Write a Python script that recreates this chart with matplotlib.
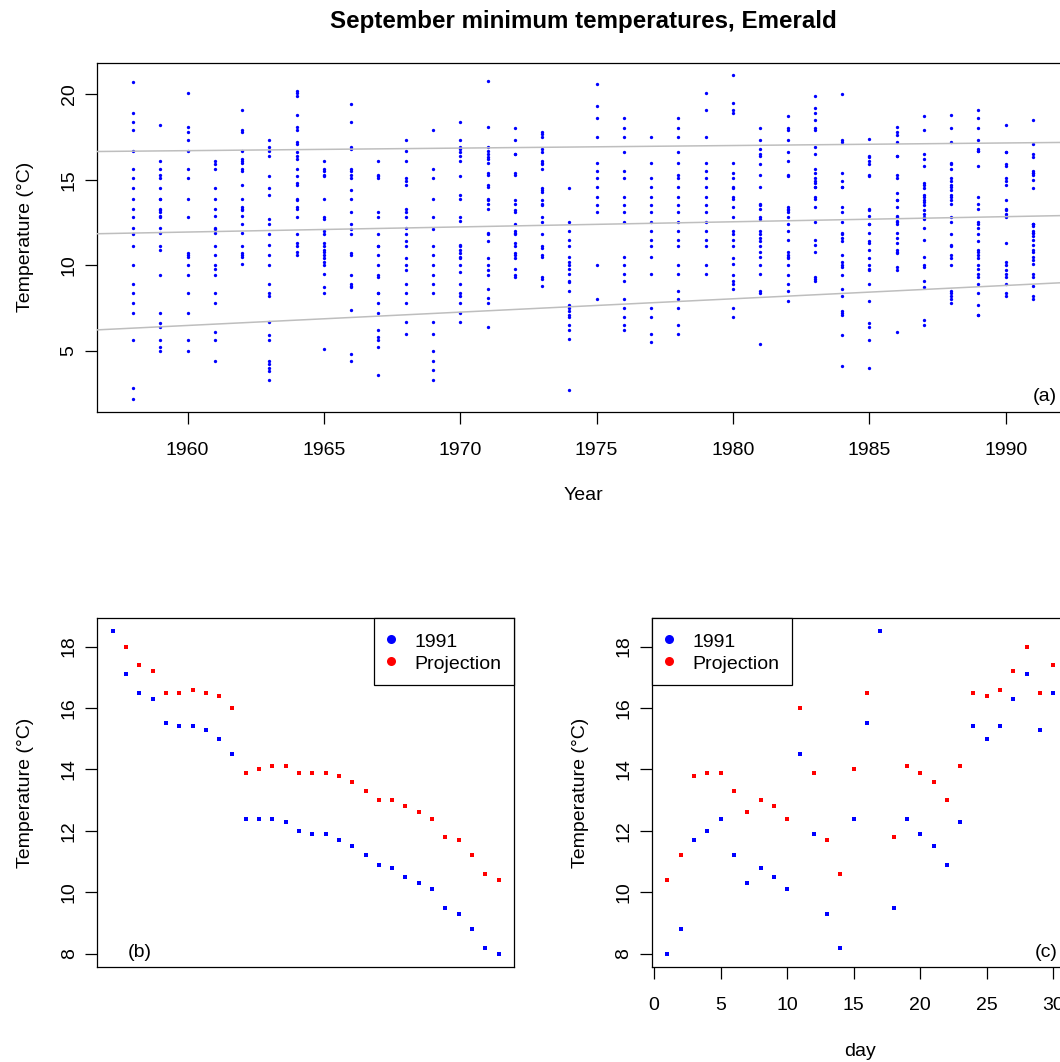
import numpy as np
import matplotlib
matplotlib.use("Agg")
import matplotlib.pyplot as plt
from matplotlib.lines import Line2D

plt.rcParams['font.family'] = ['Liberation Sans', 'DejaVu Sans']

# Daily September minimum temperatures (°C) at Emerald, one list per year
sep_1958 = [20.7, 18.9, 18.4, 17.9, 16.7, 15.6, 15.1, 14.5, 13.9, 13.3, 12.8, 12.2, 11.8, 11.1, 10.0, 8.9, 8.4, 7.8, 7.2, 5.6, 2.8, 2.2]
sep_1959 = [18.2, 16.1, 15.6, 15.3, 15.1, 14.5, 13.9, 13.9, 13.3, 13.2, 13.1, 12.9, 12.8, 12.2, 11.9, 11.1, 10.9, 9.4, 7.2, 6.6, 6.4, 5.6, 5.2, 5.0]
sep_1960 = [20.1, 18.1, 17.8, 17.3, 16.7, 15.6, 15.1, 13.9, 12.8, 10.7, 10.6, 10.5, 10.0, 9.4, 8.4, 7.2, 5.6, 5.0]
sep_1961 = [16.1, 15.9, 15.6, 14.5, 13.9, 13.3, 12.9, 12.2, 12.1, 11.9, 11.1, 10.6, 10.0, 9.8, 9.4, 8.4, 7.8, 6.1, 5.6, 4.4]
sep_1962 = [19.1, 17.9, 17.8, 16.7, 16.2, 16.1, 16.0, 15.6, 15.5, 14.7, 13.9, 13.4, 13.3, 13.2, 12.9, 12.4, 11.9, 11.1, 10.7, 10.6, 10.5, 10.1]
sep_1963 = [17.3, 16.9, 16.7, 16.4, 15.2, 14.5, 14.1, 12.7, 12.4, 11.8, 11.2, 10.6, 10.0, 8.9, 8.4, 8.2, 6.7, 5.9, 5.6, 4.4, 4.2, 4.0, 3.8, 3.3]
sep_1964 = [20.2, 20.1, 19.9, 18.8, 18.1, 17.9, 17.2, 17.1, 16.6, 16.4, 16.2, 15.6, 15.2, 14.8, 14.7, 13.9, 13.8, 13.4, 13.3, 12.8, 11.8, 11.3, 11.1, 10.8, 10.6]
sep_1965 = [16.1, 15.6, 15.5, 15.3, 15.2, 13.9, 12.8, 12.7, 12.0, 11.8, 11.3, 11.1, 10.9, 10.8, 10.6, 10.4, 10.2, 10.0, 9.5, 8.7, 8.4, 5.1]
sep_1966 = [19.4, 18.4, 16.9, 16.8, 15.6, 15.5, 15.3, 15.1, 14.4, 13.9, 13.1, 12.4, 12.1, 11.8, 10.7, 10.6, 9.4, 8.9, 8.8, 8.7, 7.4, 4.8, 4.4]
sep_1967 = [16.1, 15.3, 15.2, 15.1, 13.1, 12.8, 11.8, 11.1, 11.1, 10.6, 10.0, 9.4, 9.3, 8.4, 8.4, 7.8, 7.2, 6.2, 5.8, 5.6, 5.2, 3.6]
sep_1968 = [17.3, 16.7, 16.1, 15.1, 14.9, 14.7, 13.3, 13.1, 12.8, 12.2, 11.8, 11.4, 11.1, 10.4, 10.0, 9.7, 8.9, 8.4, 7.8, 6.7, 6.0]
sep_1969 = [17.9, 15.6, 15.1, 13.9, 12.8, 12.1, 11.1, 10.6, 10.0, 9.4, 8.9, 8.4, 6.7, 6.0, 5.0, 4.4, 3.9, 3.3]
sep_1970 = [18.4, 17.3, 16.9, 16.8, 16.6, 16.4, 16.1, 15.2, 14.1, 13.9, 12.8, 12.6, 11.2, 11.1, 10.9, 10.7, 10.5, 10.4, 10.0, 9.6, 8.9, 8.4, 8.2, 7.8, 7.2, 6.7]
sep_1971 = [20.8, 18.1, 16.9, 16.7, 16.5, 16.3, 16.2, 16.0, 15.4, 15.3, 14.7, 14.6, 13.9, 13.8, 13.6, 13.3, 11.9, 11.8, 11.4, 10.4, 10.0, 9.7, 9.4, 8.6, 8.1, 7.8, 6.4]
sep_1972 = [18.0, 17.3, 16.5, 16.5, 15.4, 15.3, 13.8, 13.6, 13.2, 13.1, 12.4, 12.0, 11.9, 11.8, 11.3, 11.1, 10.7, 10.6, 10.4, 9.8, 9.4, 9.3]
sep_1973 = [17.8, 17.7, 17.5, 16.8, 16.6, 16.1, 16.0, 15.9, 15.6, 14.5, 14.4, 14.3, 13.8, 13.6, 13.5, 12.8, 12.5, 11.8, 11.1, 11.0, 10.6, 10.5, 9.3, 9.2, 8.8]
sep_1974 = [14.5, 12.5, 12.0, 11.5, 11.1, 10.5, 10.2, 10.0, 9.8, 9.5, 9.1, 9.0, 8.5, 7.7, 7.5, 7.3, 7.1, 7.0, 6.5, 6.2, 5.7, 2.7]
sep_1975 = [20.6, 19.3, 18.6, 17.5, 16.0, 15.5, 15.1, 14.6, 14.0, 13.5, 13.1, 10.0, 8.0]
sep_1976 = [18.6, 18.0, 17.5, 16.6, 15.5, 15.1, 14.0, 13.5, 13.1, 12.5, 10.5, 10.0, 9.5, 9.1, 8.0, 7.5, 7.0, 6.5, 6.2]
sep_1977 = [17.5, 16.0, 15.1, 14.6, 14.0, 13.5, 13.1, 12.5, 12.0, 11.5, 11.1, 10.5, 9.5, 7.5, 7.0, 6.0, 5.5]
sep_1978 = [18.6, 18.0, 17.5, 16.6, 16.0, 15.3, 15.1, 14.6, 14.0, 13.5, 13.1, 12.5, 12.0, 11.5, 11.1, 10.0, 9.5, 8.5, 8.0, 7.5, 6.5, 6.0]
sep_1979 = [20.1, 19.1, 17.5, 16.0, 15.5, 15.1, 14.6, 14.0, 13.5, 13.1, 12.5, 12.0, 11.5, 11.1, 10.0, 9.5]
sep_1980 = [21.1, 19.5, 19.1, 18.9, 16.0, 15.4, 15.1, 14.6, 14.5, 14.0, 13.9, 13.4, 12.8, 12.0, 11.8, 11.5, 11.1, 10.4, 10.1, 9.4, 9.1, 8.9, 8.6, 7.5, 7.0]
sep_1981 = [18.0, 17.3, 16.8, 16.5, 16.4, 15.9, 15.3, 14.6, 13.6, 13.5, 13.3, 12.8, 12.7, 12.0, 11.8, 11.6, 11.4, 11.1, 10.8, 10.5, 10.0, 9.5, 8.5, 8.4, 5.4]
sep_1982 = [18.7, 18.0, 17.9, 17.3, 16.6, 16.1, 15.3, 15.2, 13.4, 13.3, 13.2, 13.1, 12.8, 12.4, 12.0, 11.5, 10.8, 10.6, 10.5, 10.4, 10.0, 9.4, 8.9, 8.5, 7.9]
sep_1983 = [19.9, 19.2, 18.9, 18.5, 18.0, 17.9, 16.9, 16.5, 15.6, 15.4, 15.1, 14.9, 14.8, 14.6, 14.6, 14.0, 13.9, 13.4, 12.5, 11.5, 11.2, 10.8, 9.3, 9.2, 9.1]
sep_1984 = [20.0, 17.3, 17.2, 15.4, 14.9, 14.6, 14.6, 13.4, 13.1, 12.5, 11.9, 11.8, 11.6, 11.4, 10.6, 10.2, 10.0, 9.9, 9.4, 8.6, 8.2, 7.3, 7.2, 7.1, 5.9, 4.1]
sep_1985 = [17.4, 16.4, 16.3, 16.1, 15.9, 15.3, 15.2, 13.3, 13.2, 12.9, 12.4, 12.4, 11.9, 11.4, 11.3, 10.9, 10.4, 10.0, 9.8, 9.7, 8.9, 7.9, 6.6, 6.4, 5.6, 4.0]
sep_1986 = [18.1, 17.8, 17.6, 17.2, 16.4, 16.4, 15.3, 15.1, 14.2, 13.8, 13.8, 13.4, 12.9, 12.8, 12.6, 12.5, 12.4, 11.9, 11.6, 11.3, 10.9, 10.8, 10.7, 9.9, 9.7, 6.1]
sep_1987 = [18.7, 17.9, 16.5, 16.2, 15.8, 14.8, 14.7, 14.5, 14.1, 14.0, 13.8, 13.7, 13.5, 13.2, 13.0, 12.8, 12.7, 12.2, 11.5, 10.5, 10.0, 9.9, 9.1, 8.7, 6.8, 6.5]
sep_1988 = [18.8, 18.0, 17.2, 16.0, 15.9, 15.6, 15.1, 14.9, 14.7, 14.6, 14.4, 14.1, 14.0, 13.8, 13.6, 12.8, 12.5, 11.8, 11.2, 11.1, 10.6, 10.4, 10.0, 8.5, 8.4, 8.2, 8.0, 7.8]
sep_1989 = [19.1, 18.6, 18.0, 17.3, 16.8, 16.7, 16.7, 15.8, 14.0, 13.6, 13.3, 12.5, 12.4, 12.2, 11.8, 11.4, 10.9, 10.8, 10.6, 10.4, 10.0, 9.8, 9.5, 9.3, 8.9, 8.4, 7.7, 7.1, 7.1]
sep_1990 = [18.2, 16.6, 16.6, 15.9, 15.8, 15.1, 14.9, 14.7, 13.8, 13.3, 13.2, 13.0, 12.9, 12.8, 11.3, 10.2, 10.0, 9.7, 9.5, 9.3, 8.9, 8.4, 8.2]
# 1991 in day order (1-30 September)
sep_1991 = [8.0, 8.8, 11.7, 12.0, 12.4, 11.2, 10.3, 10.8, 10.5, 10.1, 14.5, 11.9, 9.3, 8.2, 12.4,
            15.5, 18.5, 9.5, 12.4, 11.9, 11.5, 10.9, 12.3, 15.4, 15.0, 15.4, 16.3, 17.1, 15.3, 16.5]

years = list(range(1958, 1992))
sept_min = [sep_1958, sep_1959, sep_1960, sep_1961, sep_1962, sep_1963, sep_1964, sep_1965,
            sep_1966, sep_1967, sep_1968, sep_1969, sep_1970, sep_1971, sep_1972, sep_1973,
            sep_1974, sep_1975, sep_1976, sep_1977, sep_1978, sep_1979, sep_1980, sep_1981,
            sep_1982, sep_1983, sep_1984, sep_1985, sep_1986, sep_1987, sep_1988, sep_1989,
            sep_1990, sep_1991]

# Fitted quantile trend lines (10%, 50%, 90%): level in 1958 and slope per year
quantile_at_1958 = [6.32, 11.88, 16.67]
quantile_slope = [0.078, 0.030, 0.015]

# Projected September 1991 minima, by day
days = list(range(1, 31))
projection_1991 = [10.4, 11.2, 13.8, 13.9, 13.9, 13.3, 12.6, 13.0, 12.8, 12.4, 16.0, 13.9, 11.7, 10.6, 14.0,
                   16.5, 19.1, 11.8, 14.1, 13.9, 13.6, 13.0, 14.1, 16.5, 16.4, 16.6, 17.2, 18.0, 16.5, 17.4]


def padded(lo, hi, frac=0.04):
    span = hi - lo
    return lo - frac * span, hi + frac * span


FS = 14
W, H = 1060, 1062
fig = plt.figure(figsize=(W / 100, H / 100), dpi=100)


def px_axes(left, top, right, bottom):
    return fig.add_axes([left / W, 1 - bottom / H, (right - left) / W, (bottom - top) / H])


def style(ax):
    for s in ax.spines.values():
        s.set_linewidth(0.9)
    ax.tick_params(direction='out', length=8.3, width=0.9, labelsize=FS)
    ax.tick_params(axis='x', pad=13.5)
    ax.tick_params(axis='y', pad=5.7, labelrotation=90)
    for lab in ax.get_yticklabels():
        lab.set_verticalalignment('center')


# ---- (a) all years ----
axa = px_axes(97, 62.5, 1069, 411.5)
for yr, vals in zip(years, sept_min):
    axa.plot(np.full(len(vals), yr), vals, 'o', ms=2.4, mew=0, color='blue', zorder=2)
for a, b in zip(quantile_at_1958, quantile_slope):
    axa.axline((1958, a), slope=b, color='#BEBEBE', lw=1.1, zorder=3)
all_vals = np.concatenate([np.asarray(v, float) for v in sept_min])
axa.set_xlim(*padded(min(years), max(years)))
axa.set_ylim(*padded(all_vals.min(), all_vals.max()))
axa.set_xticks([1960, 1965, 1970, 1975, 1980, 1985, 1990])
axa.set_yticks([5, 10, 15, 20])
style(axa)
axa.set_xlabel('Year', fontsize=FS, labelpad=20.5)
axa.set_ylabel('Temperature (°C)', fontsize=FS, labelpad=19)
axa.text(0.9877, 0.030, '(a)', transform=axa.transAxes, ha='right', va='baseline', fontsize=FS)

fig.text(583 / W, 1 - 28.3 / H, 'September minimum temperatures, Emerald',
         ha='center', va='baseline', fontsize=17.4, fontweight='bold')

obs = np.asarray(sep_1991, float)
proj = np.asarray(projection_1991, float)
ylim_91 = padded(obs.min(), obs.max())

handles = [Line2D([], [], ls='none', marker='o', ms=6.5, mew=0, color='blue', label='1991'),
           Line2D([], [], ls='none', marker='o', ms=6.5, mew=0, color='red', label='Projection')]
leg_kw = dict(handles=handles, fontsize=FS, borderaxespad=0, fancybox=False, framealpha=1,
              edgecolor='black', borderpad=0.65, labelspacing=0.06, handlelength=0.45,
              handleheight=1.17, handletextpad=0.99)

# ---- (b) 1991 ranked, with projection in the same order ----
axb = px_axes(97.3, 618.3, 514, 966.7)
order = np.argsort(-obs, kind='stable')
rank = np.arange(1, len(obs) + 1)
axb.plot(rank, obs[order], 's', ms=2.8, mew=0, color='blue')
axb.plot(rank, proj[order], 's', ms=2.8, mew=0, color='red')
axb.set_xlim(*padded(1, len(obs)))
axb.set_ylim(*ylim_91)
axb.set_xticks([])
axb.set_yticks([8, 10, 12, 14, 16, 18])
style(axb)
axb.set_ylabel('Temperature (°C)', fontsize=FS, labelpad=19)
lb = axb.legend(loc='upper right', **leg_kw)
lb.get_frame().set_linewidth(0.9)
axb.text(0.1025, 0.0287, '(b)', transform=axb.transAxes, ha='center', va='baseline', fontsize=FS)

# ---- (c) 1991 by day ----
axc = px_axes(652, 618.3, 1068.7, 966.7)
axc.plot(days, obs, 's', ms=2.8, mew=0, color='blue')
axc.plot(days, proj, 's', ms=2.8, mew=0, color='red')
axc.set_xlim(*padded(min(days), max(days)))
axc.set_ylim(*ylim_91)
axc.set_xticks([0, 5, 10, 15, 20, 25, 30])
axc.set_yticks([8, 10, 12, 14, 16, 18])
style(axc)
axc.set_xlabel('day', fontsize=FS, labelpad=21)
axc.set_ylabel('Temperature (°C)', fontsize=FS, labelpad=19)
lc = axc.legend(loc='upper left', **leg_kw)
lc.get_frame().set_linewidth(0.9)
axc.text(0.974, 0.0287, '(c)', transform=axc.transAxes, ha='right', va='baseline', fontsize=FS)

fig.savefig('out.png', dpi=100)
